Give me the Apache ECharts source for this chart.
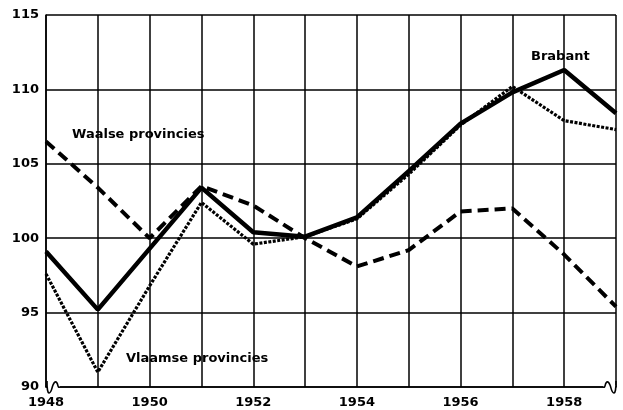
<!DOCTYPE html>
<html>
<head>
<meta charset="utf-8">
<script src="https://cdn.jsdelivr.net/npm/echarts@6/dist/echarts.min.js"></script>
<style>
  html, body { margin: 0; padding: 0; background: #fff; }
  #chart { width: 623px; height: 410px; }
</style>
</head>
<body>
<div id="chart"></div>
<script>
const years = ['1948', '1949', '1950', '1951', '1952', '1953', '1954', '1955', '1956', '1957', '1958', '1959']
const brabant = [99.1, 95.2, 99.3, 103.4, 100.4, 100.1, 101.4, 104.5, 107.7, 109.8, 111.3, 108.4]
const vlaamse = [97.6, 91.0, 96.8, 102.4, 99.6, 100.1, 101.3, 104.3, 107.6, 110.2, 107.9, 107.3]
const waalse = [106.5, 103.4, 100.0, 103.5, 102.2, 100.0, 98.1, 99.2, 101.8, 102.0, 98.9, 95.4]

const yMin = 90
const yMax = 115
const yStep = 5

const chartRef = document.getElementById('chart')
const chartIns = echarts.init(chartRef, null, { renderer: 'canvas' })

const labelFont = {
  color: '#000',
  fontFamily: 'DejaVu Sans',
  fontWeight: 'bold',
  fontSize: 13,
}

// little axis-break squiggles at both ends of the bottom axis
function squiggle(x0, flip) {
  const s = flip ? -1 : 1
  const pts = [[0, -6], [0.5, 3], [2, 6], [4, 4], [6, -2], [8, -5], [10, -4], [11.5, 0], [13, 0]]
  return [
    {
      type: 'rect',
      shape: { x: flip ? x0 - 13 : x0, y: 385, width: 13, height: 4 },
      style: { fill: '#fff' },
      z: 9,
    },
    {
      type: 'polyline',
      shape: { points: pts.map(([dx, dy]) => [x0 + s * dx, 387 + dy]), smooth: 0.4 },
      style: { fill: 'none', stroke: '#000', lineWidth: 1.6 },
      z: 10,
    },
  ]
}

const opts = {
  animation: false,
  backgroundColor: '#fff',
  grid: {
    left: 46,
    right: 7,
    top: 15,
    bottom: 23,
  },
  xAxis: {
    type: 'category',
    data: years,
    boundaryGap: false,
    axisLine: { show: true, lineStyle: { color: '#000', width: 1.5 } },
    axisTick: { show: false },
    axisLabel: {
      ...labelFont,
      interval: (i) => i % 2 === 0 && i < years.length - 1,
      margin: 9,
    },
    splitLine: {
      show: true,
      interval: 0,
      lineStyle: { color: '#000', width: 1.5 },
    },
  },
  yAxis: {
    type: 'value',
    min: yMin,
    max: yMax,
    interval: yStep,
    axisLine: { show: true, lineStyle: { color: '#000', width: 1.5 } },
    axisTick: { show: false },
    axisLabel: {
      ...labelFont,
      margin: 7,
    },
    splitLine: {
      show: true,
      lineStyle: { color: '#000', width: 1.5 },
    },
  },
  series: [
    {
      name: 'Waalse provincies',
      type: 'line',
      data: waalse,
      symbol: 'none',
      z: 3,
      lineStyle: { color: '#000', width: 4, type: [11, 6] },
    },
    {
      name: 'Vlaamse provincies',
      type: 'line',
      data: vlaamse,
      symbol: 'none',
      z: 4,
      lineStyle: { color: '#000', width: 3.2, type: [3, 1.5] },
    },
    {
      name: 'Brabant',
      type: 'line',
      data: brabant,
      symbol: 'none',
      z: 5,
      lineStyle: { color: '#000', width: 4.5 },
    },
  ],
  graphic: [
    ...squiggle(47, false),
    ...squiggle(616, true),
    {
      type: 'text',
      left: 72,
      top: 128,
      style: { text: 'Waalse provincies', ...labelFont, fill: '#000' },
    },
    {
      type: 'text',
      left: 531,
      top: 50,
      style: { text: 'Brabant', ...labelFont, fill: '#000' },
    },
    {
      type: 'text',
      left: 126,
      top: 352,
      style: { text: 'Vlaamse provincies', ...labelFont, fill: '#000' },
    },
  ],
}

chartIns.setOption(opts)
</script>
</body>
</html>
